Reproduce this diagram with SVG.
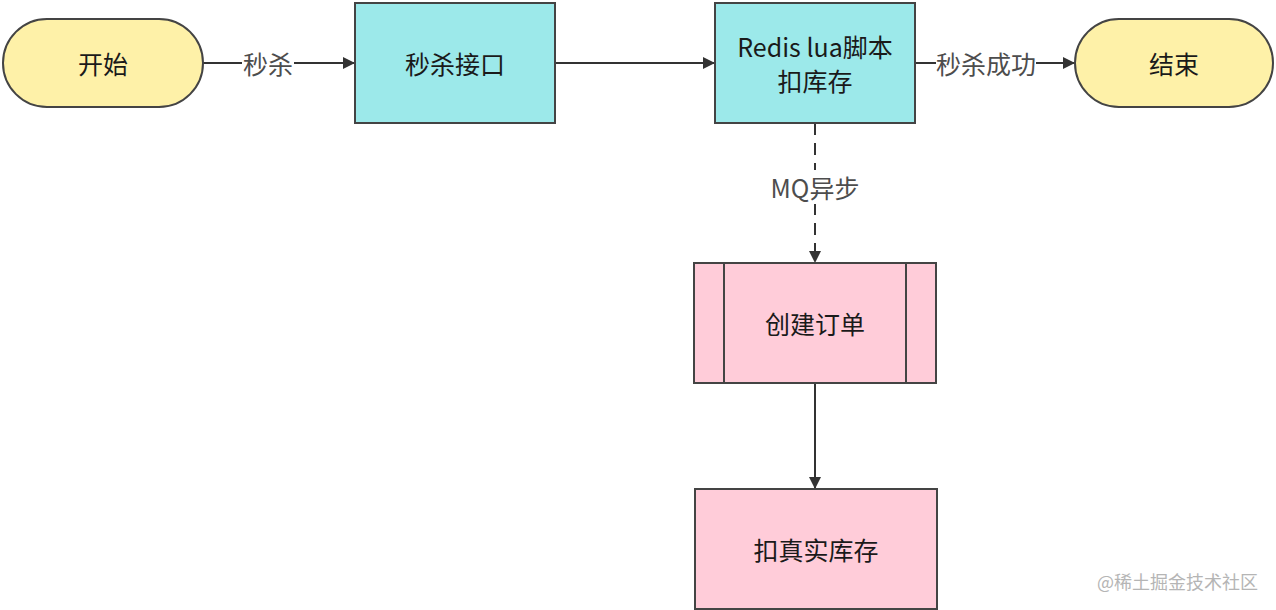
<svg xmlns="http://www.w3.org/2000/svg" width="1276" height="610" viewBox="0 0 1276 610">
<defs>
<marker id="arr" viewBox="0 0 10 10" refX="10" refY="5" markerWidth="12" markerHeight="12" markerUnits="userSpaceOnUse" orient="auto">
<path d="M0,0 L10,5 L0,10 z" fill="#333"/>
</marker>
<style>
.t{font-family:"Noto Sans CJK SC","Liberation Sans",sans-serif;font-size:25px;fill:#1a1a1a;text-anchor:middle;dominant-baseline:central}
.l{font-family:"Noto Sans CJK SC","Liberation Sans",sans-serif;font-size:25px;fill:#4d4d4d;text-anchor:middle;dominant-baseline:central}
.e{stroke:#333;stroke-width:2;fill:none;marker-end:url(#arr)}
.n{stroke:#444;stroke-width:2}
</style>
</defs>
<rect width="1276" height="610" fill="#fff"/>
<g id="connectors">
<path class="e" d="M203,63 H355"/>
<rect x="242" y="48" width="52" height="30" fill="#fff"/>
<text class="l" x="268" y="63">秒杀</text>
<path class="e" d="M555,63 H715"/>
<path class="e" d="M915,63 H1075"/>
<rect x="936" y="48" width="100" height="30" fill="#fff"/>
<text class="l" x="986" y="63">秒杀成功</text>
<path class="e" d="M815,123 V263" stroke-dasharray="12,8"/>
<rect x="764" y="170" width="102" height="34" fill="#fff"/>
<text class="l" x="815" y="187">MQ异步</text>
<path class="e" d="M815,383 V489"/>
</g>
<g id="start">
<rect class="n" x="3" y="19" width="200" height="88" rx="44" fill="#fef1a8"/>
<text class="t" x="103" y="63">开始</text>
</g>
<g id="api">
<rect class="n" x="355" y="3" width="200" height="120" fill="#9ce9ea"/>
<text class="t" x="455" y="63">秒杀接口</text>
</g>
<g id="redis">
<rect class="n" x="715" y="3" width="200" height="120" fill="#9ce9ea"/>
<text class="t" x="815" y="46">Redis lua脚本</text>
<text class="t" x="815" y="80">扣库存</text>
</g>
<g id="end">
<rect class="n" x="1075" y="19" width="198" height="88" rx="44" fill="#fef1a8"/>
<text class="t" x="1174" y="63">结束</text>
</g>
<g id="order">
<rect class="n" x="694" y="263" width="242" height="120" fill="#ffccd9"/>
<line class="n" x1="724" y1="263" x2="724" y2="383"/>
<line class="n" x1="906" y1="263" x2="906" y2="383"/>
<text class="t" x="815" y="323">创建订单</text>
</g>
<g id="stock">
<rect class="n" x="695" y="489" width="242" height="120" fill="#ffccd9"/>
<text class="t" x="816" y="549">扣真实库存</text>
</g>
<text x="1258" y="581" font-family="Noto Sans CJK SC,Liberation Sans,sans-serif" font-size="18" fill="#b5b5b5" text-anchor="end" dominant-baseline="central">@稀土掘金技术社区</text>
</svg>
